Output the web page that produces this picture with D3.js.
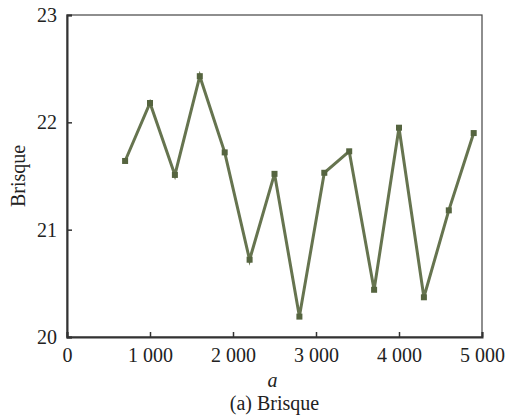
<!DOCTYPE html>
<html>
<head>
<meta charset="utf-8">
<script src="https://cdn.jsdelivr.net/npm/d3@7"></script>
<style>
  html, body { margin: 0; padding: 0; background: #fff; }
  svg { display: block; }
  svg text { font-family: 'Liberation Serif', 'Times New Roman', Times, 'DejaVu Serif', serif !important; fill: #222; }
</style>
</head>
<body>
<svg id="chart" width="511" height="418"></svg>
<script>
const xValues = [700, 1000, 1300, 1600, 1900, 2200, 2500, 2800, 3100, 3400, 3700, 4000, 4300, 4600, 4900];
const brisque = [21.64, 22.18, 21.51, 22.43, 21.72, 20.72, 21.52, 20.19, 21.53, 21.73, 20.44, 21.95, 20.37, 21.18, 21.90];
const xTicks = [0, 1000, 2000, 3000, 4000, 5000];
const yTicks = [20, 21, 22, 23];
const xLabel = "a";
const yLabel = "Brisque";
const caption = "(a) Brisque";

(function () {
const FONT = "'Liberation Serif', 'Times New Roman', Times, 'DejaVu Serif', serif";
const svg = d3.select("#chart").attr("font-family", FONT);
const mLeft = 67, mRight = 482, mTop = 15, mBottom = 337;

const x = d3.scaleLinear().domain([0, 5000]).range([mLeft, mRight]);
const y = d3.scaleLinear().domain([20, 23]).range([mBottom, mTop]);

// frame
svg.append("rect")
  .attr("x", mLeft).attr("y", mTop)
  .attr("width", mRight - mLeft).attr("height", mBottom - mTop)
  .attr("fill", "none").attr("stroke", "#444").attr("stroke-width", 1.2);

// x axis (inward ticks)
const xAxis = svg.append("g").attr("transform", `translate(0,${mBottom})`)
  .call(d3.axisBottom(x).tickValues(xTicks).tickSize(-5).tickPadding(11)
    .tickFormat(d => d === 0 ? "0" : d3.format(",")(d).replace(/,/g, " ")));
xAxis.attr("font-family", FONT).attr("font-size", 20);
xAxis.select(".domain").attr("stroke", "#333").attr("stroke-width", 2);
xAxis.selectAll(".tick line").attr("stroke", "#333").attr("stroke-width", 1.5);
xAxis.selectAll("text").attr("fill", "#222");

// y axis (inward ticks)
const yAxis = svg.append("g").attr("transform", `translate(${mLeft},0)`)
  .call(d3.axisLeft(y).tickValues(yTicks).tickSize(-5).tickPadding(10).tickFormat(d3.format("d")));
yAxis.attr("font-family", FONT).attr("font-size", 20);
yAxis.select(".domain").attr("stroke", "#333").attr("stroke-width", 2);
yAxis.selectAll(".tick line").attr("stroke", "#333").attr("stroke-width", 1.5);
yAxis.selectAll("text").attr("fill", "#222");

// line
const data = xValues.map((v, i) => ({ x: v, y: brisque[i] }));
svg.append("path")
  .datum(data)
  .attr("fill", "none")
  .attr("stroke", "#66744f")
  .attr("stroke-width", 3)
  .attr("stroke-linejoin", "miter")
  .attr("d", d3.line().x(d => x(d.x)).y(d => y(d.y)));

// markers
svg.selectAll("rect.mk").data(data).enter().append("rect")
  .attr("class", "mk")
  .attr("x", d => x(d.x) - 3).attr("y", d => y(d.y) - 3)
  .attr("width", 6).attr("height", 6)
  .attr("fill", "#55643f");

// labels
svg.append("text")
  .attr("transform", `translate(25,${(mTop + mBottom) / 2}) rotate(-90)`)
  .attr("text-anchor", "middle")
  .attr("font-size", 20)
  .text(yLabel);

svg.append("text")
  .attr("x", (mLeft + mRight) / 2 - 2).attr("y", 387)
  .attr("text-anchor", "middle")
  .attr("font-size", 20).attr("font-style", "italic")
  .text(xLabel);

svg.append("text")
  .attr("x", (mLeft + mRight) / 2).attr("y", 410)
  .attr("text-anchor", "middle")
  .attr("font-size", 20)
  .text(caption);
})();
</script>
</body>
</html>
